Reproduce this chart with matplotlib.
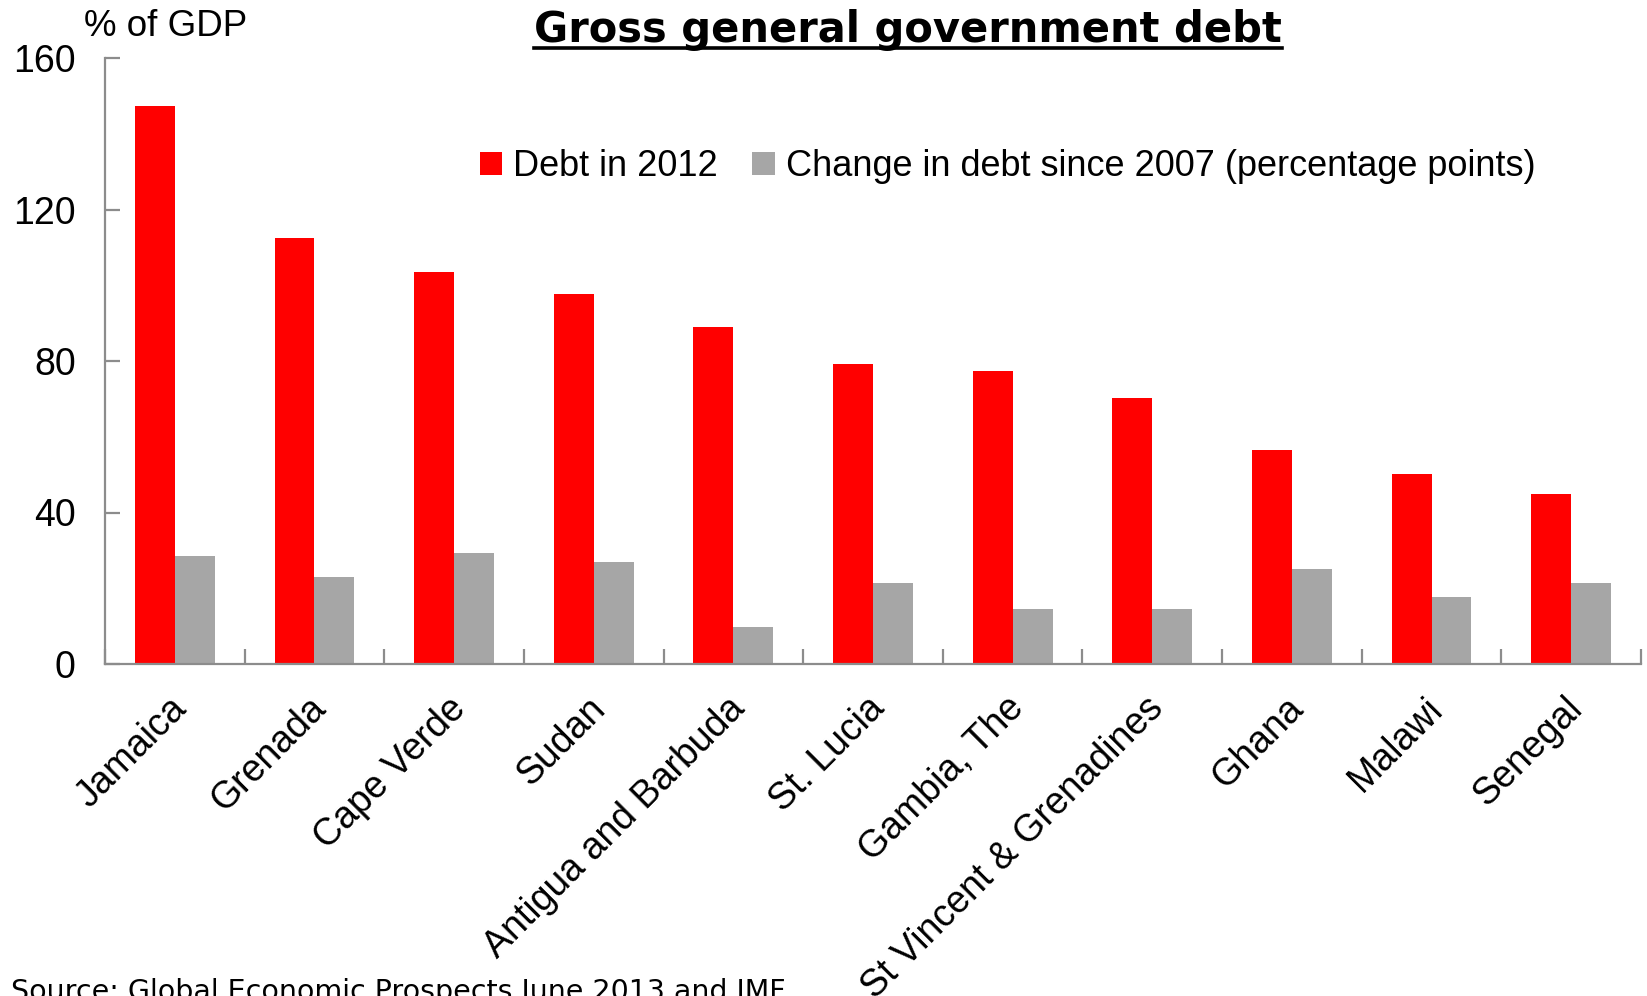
import matplotlib
matplotlib.use('Agg')
import matplotlib.pyplot as plt
import matplotlib.transforms as mtransforms
import numpy as np
from matplotlib.lines import Line2D

countries = ['Jamaica', 'Grenada', 'Cape Verde', 'Sudan', 'Antigua and Barbuda',
             'St. Lucia', 'Gambia, The', 'St Vincent & Grenadines', 'Ghana',
             'Malawi', 'Senegal']
debt_2012 = [147.2, 112.6, 103.4, 97.6, 89.0, 79.3, 77.4, 70.2, 56.6, 50.2, 44.9]
change_since_2007 = [28.6, 23.0, 29.4, 26.9, 9.7, 21.4, 14.4, 14.4, 25.2, 17.7, 21.4]
y_ticks = [0, 40, 80, 120, 160]

RED = '#ff0000'
GREY = '#a6a6a6'
AXIS_GREY = '#8c8c8c'
ARIAL = 'Liberation Sans'
VERDANA = 'DejaVu Sans'

W, H = 1647, 996
fig = plt.figure(figsize=(W / 100, H / 100), dpi=100)
ax = fig.add_axes([105 / W, 1 - 664 / H, (1641 - 105) / W, (664 - 58) / H])

x = np.arange(len(countries))
bw = 0.286
ax.bar(x - bw / 2, debt_2012, bw, color=RED, label='Debt in 2012')
ax.bar(x + bw / 2, change_since_2007, bw, color=GREY,
       label='Change in debt since 2007 (percentage points)')

ax.set_xlim(-0.5, len(countries) - 0.5)
ax.set_ylim(0, 160)

# spines: only left and bottom, grey
for side in ['top', 'right']:
    ax.spines[side].set_visible(False)
for side in ['left', 'bottom']:
    ax.spines[side].set_color(AXIS_GREY)
    ax.spines[side].set_linewidth(1.6)

# y axis
ax.set_yticks(y_ticks)
ax.set_yticklabels([str(v) for v in y_ticks], fontfamily=ARIAL, fontsize=27)
ax.tick_params(axis='y', direction='in', length=11, width=1.6, color=AXIS_GREY, pad=21)

# x axis: tick marks between groups, names under the groups
ax.set_xticks(x)
ax.set_xticklabels(countries, rotation=45, ha='right', va='center',
                   rotation_mode='anchor', fontfamily=ARIAL, fontsize=27)
ax.tick_params(axis='x', which='major', length=0, pad=28)
shift = mtransforms.ScaledTranslation(6 / 100, 0, fig.dpi_scale_trans)
for lbl in ax.get_xticklabels():
    lbl.set_transform(lbl.get_transform() + shift)
ax.set_xticks(np.arange(-0.5, len(countries)), minor=True)
ax.tick_params(axis='x', which='minor', direction='in', length=11, width=1.6,
               color=AXIS_GREY)

ax.legend(loc='center left', bbox_to_anchor=(480 / W, 1 - 167 / H),
          bbox_transform=fig.transFigure, ncol=2, frameon=False,
          prop={'family': ARIAL, 'size': 26}, handlelength=0.62,
          handleheight=0.62, handletextpad=0.3, columnspacing=0.95,
          borderpad=0, borderaxespad=0)

fig.text(84 / W, 1 - 26 / H, '% of GDP', fontfamily=ARIAL, fontsize=26.5,
         ha='left', va='center')

title = fig.text(908 / W, 1 - 42 / H, 'Gross general government debt',
                 fontfamily=VERDANA, fontweight='bold', fontsize=30,
                 ha='center', va='baseline')

fig.text(11 / W, 1 - 1000 / H, 'Source: Global Economic Prospects June 2013 and IMF',
         fontfamily=VERDANA, fontsize=20.5, ha='left', va='baseline')

# underline the title
fig.canvas.draw()
bb = title.get_window_extent()
uy = 1 - 48 / H
fig.add_artist(Line2D([bb.x0 / W, bb.x1 / W], [uy, uy], color='black',
                      linewidth=2.6, transform=fig.transFigure))

fig.savefig('out.png', dpi=100)
